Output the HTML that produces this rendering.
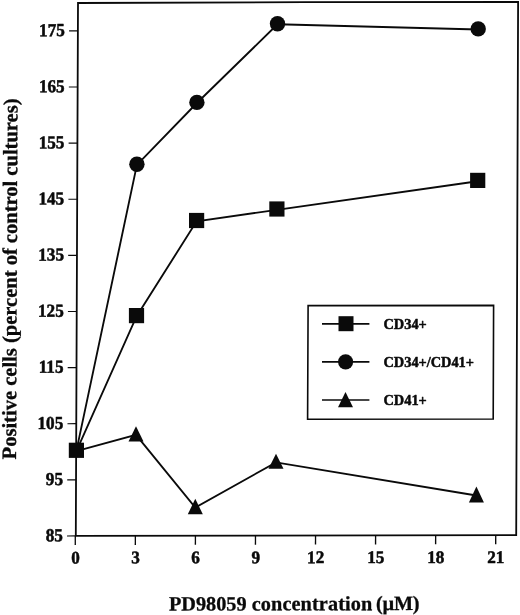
<!DOCTYPE html>
<html lang="en">
<head>
<meta charset="utf-8">
<title>PD98059 concentration chart</title>
<style>
html,body{margin:0;padding:0;background:#ffffff;}
body{width:520px;height:615px;overflow:hidden;font-family:"Liberation Serif",serif;}
svg{display:block;filter:blur(0.35px);}
</style>
</head>
<body>
<svg width="520" height="615" viewBox="0 0 520 615">
<rect x="0" y="0" width="520" height="615" fill="#ffffff"/>
<g fill="none" stroke="#0a0a0a" stroke-linecap="butt" stroke-linejoin="miter">
<polygon points="78,3 305,2.2 518.1,2 516.2,535.05 75.8,535.9" stroke-width="1.8"/>
<line x1="69.09" y1="30.88" x2="77.89" y2="30.85" stroke-width="1.15"/>
<line x1="68.85" y1="87" x2="77.65" y2="86.97" stroke-width="1.15"/>
<line x1="68.62" y1="143.12" x2="77.42" y2="143.09" stroke-width="1.15"/>
<line x1="68.39" y1="199.24" x2="77.19" y2="199.21" stroke-width="1.15"/>
<line x1="68.16" y1="255.36" x2="76.96" y2="255.33" stroke-width="1.15"/>
<line x1="67.93" y1="311.48" x2="76.73" y2="311.45" stroke-width="1.15"/>
<line x1="67.69" y1="367.6" x2="76.49" y2="367.57" stroke-width="1.15"/>
<line x1="67.46" y1="423.72" x2="76.26" y2="423.69" stroke-width="1.15"/>
<line x1="67.23" y1="479.84" x2="76.03" y2="479.81" stroke-width="1.15"/>
<line x1="67" y1="535.96" x2="75.8" y2="535.93" stroke-width="1.15"/>
<line x1="75.3" y1="535.9" x2="75.27" y2="545" stroke-width="1.35"/>
<line x1="135.36" y1="535.79" x2="135.33" y2="544.89" stroke-width="1.35"/>
<line x1="195.42" y1="535.67" x2="195.39" y2="544.77" stroke-width="1.35"/>
<line x1="255.48" y1="535.55" x2="255.45" y2="544.65" stroke-width="1.35"/>
<line x1="315.54" y1="535.44" x2="315.51" y2="544.54" stroke-width="1.35"/>
<line x1="375.6" y1="535.32" x2="375.57" y2="544.42" stroke-width="1.35"/>
<line x1="435.66" y1="535.21" x2="435.63" y2="544.31" stroke-width="1.35"/>
<line x1="495.72" y1="535.09" x2="495.69" y2="544.19" stroke-width="1.35"/>
<polyline points="76.4,450.9 136.9,164.9 196.9,103 277.5,24.3 478.2,29.5" stroke-width="1.85"/>
<polyline points="76.4,451.15 136.5,316.45 196.6,221.35 276.9,209.85 477.7,181.25" stroke-width="1.85"/>
<polyline points="76.3,451.2 136,434.9 195.3,507.6 276,462.35 476.4,495.5" stroke-width="1.85"/>
<polygon points="308.1,305.6 493.6,305.4 493.2,419.0 307.6,419.2" stroke-width="1.6"/>
<line x1="322" y1="323.9" x2="369.4" y2="323.9" stroke-width="1.7"/>
<line x1="322" y1="361.8" x2="369.4" y2="361.8" stroke-width="1.7"/>
<line x1="322" y1="400" x2="369.4" y2="400" stroke-width="1.7"/>
</g>
<g fill="#0a0a0a" stroke="none">
<polygon points="136,426.2 143.5,441.4 128.5,441.4"/>
<polygon points="195.3,498.8 202.8,514.2 187.8,514.2"/>
<polygon points="276,453.7 283.5,468.8 268.5,468.8"/>
<polygon points="476.4,486.4 483.9,502.4 468.9,502.4"/>
<rect x="68.8" y="442.7" width="15.2" height="15.2"/>
<rect x="128.9" y="308" width="15.2" height="15.2"/>
<rect x="189" y="212.9" width="15.2" height="15.2"/>
<rect x="269.3" y="201.4" width="15.2" height="15.2"/>
<rect x="470.1" y="172.8" width="15.2" height="15.2"/>
<circle cx="136.9" cy="164.3" r="7.7"/>
<circle cx="196.9" cy="102.4" r="7.7"/>
<circle cx="277.5" cy="23.7" r="7.7"/>
<circle cx="478.2" cy="28.9" r="7.7"/>
<rect x="338.5" y="316.2" width="15" height="15"/>
<circle cx="345.6" cy="361.8" r="7.6"/>
<polygon points="345.5,391.9 353,407.2 338,407.2"/>
</g>
<g fill="#0a0a0a" stroke="#0a0a0a" stroke-width="0.5" stroke-linejoin="round" font-family="'Liberation Serif', serif" font-weight="bold">
<text transform="translate(64.9,36.1) rotate(-0.12) scale(1,1.06)" font-size="17.2" text-anchor="end">175</text>
<text transform="translate(64.67,92.22) rotate(-0.12) scale(1,1.06)" font-size="17.2" text-anchor="end">165</text>
<text transform="translate(64.44,148.34) rotate(-0.12) scale(1,1.06)" font-size="17.2" text-anchor="end">155</text>
<text transform="translate(64.21,204.46) rotate(-0.12) scale(1,1.06)" font-size="17.2" text-anchor="end">145</text>
<text transform="translate(63.98,260.58) rotate(-0.12) scale(1,1.06)" font-size="17.2" text-anchor="end">135</text>
<text transform="translate(63.75,316.7) rotate(-0.12) scale(1,1.06)" font-size="17.2" text-anchor="end">125</text>
<text transform="translate(63.52,372.82) rotate(-0.12) scale(1,1.06)" font-size="17.2" text-anchor="end">115</text>
<text transform="translate(63.29,428.94) rotate(-0.12) scale(1,1.06)" font-size="17.2" text-anchor="end">105</text>
<text transform="translate(63.06,485.06) rotate(-0.12) scale(1,1.06)" font-size="17.2" text-anchor="end">95</text>
<text transform="translate(62.83,541.18) rotate(-0.12) scale(1,1.06)" font-size="17.2" text-anchor="end">85</text>
<text transform="translate(75.6,563.4) rotate(-0.12) scale(1,1.025)" font-size="17.2" text-anchor="middle">0</text>
<text transform="translate(135.63,563.33) rotate(-0.12) scale(1,1.025)" font-size="17.2" text-anchor="middle">3</text>
<text transform="translate(195.66,563.26) rotate(-0.12) scale(1,1.025)" font-size="17.2" text-anchor="middle">6</text>
<text transform="translate(255.69,563.18) rotate(-0.12) scale(1,1.025)" font-size="17.2" text-anchor="middle">9</text>
<text transform="translate(315.72,563.11) rotate(-0.12) scale(1,1.025)" font-size="17.2" text-anchor="middle">12</text>
<text transform="translate(375.75,563.04) rotate(-0.12) scale(1,1.025)" font-size="17.2" text-anchor="middle">15</text>
<text transform="translate(435.78,562.97) rotate(-0.12) scale(1,1.025)" font-size="17.2" text-anchor="middle">18</text>
<text transform="translate(495.81,562.9) rotate(-0.12) scale(1,1.025)" font-size="17.2" text-anchor="middle">21</text>
<text x="383.5" y="329.3" font-size="14.35">CD34+</text>
<text x="383.5" y="366.8" font-size="14.35">CD34+/CD41+</text>
<text x="383.5" y="405" font-size="14.35">CD41+</text>
<g transform="rotate(-0.13 169 610.6)" stroke-width="0.3">
<text x="168.9" y="610.6" font-size="20.3">PD98059 <tspan letter-spacing="0.095">concentration</tspan><tspan dx="-1.2" letter-spacing="-0.25"> (µM)</tspan></text>
</g>
<text transform="translate(16.0,459.4) rotate(-89.765)" font-size="20.54" stroke-width="0.3">Positive cells (percent of control cultures)</text>
</g>
</svg>
</body>
</html>
